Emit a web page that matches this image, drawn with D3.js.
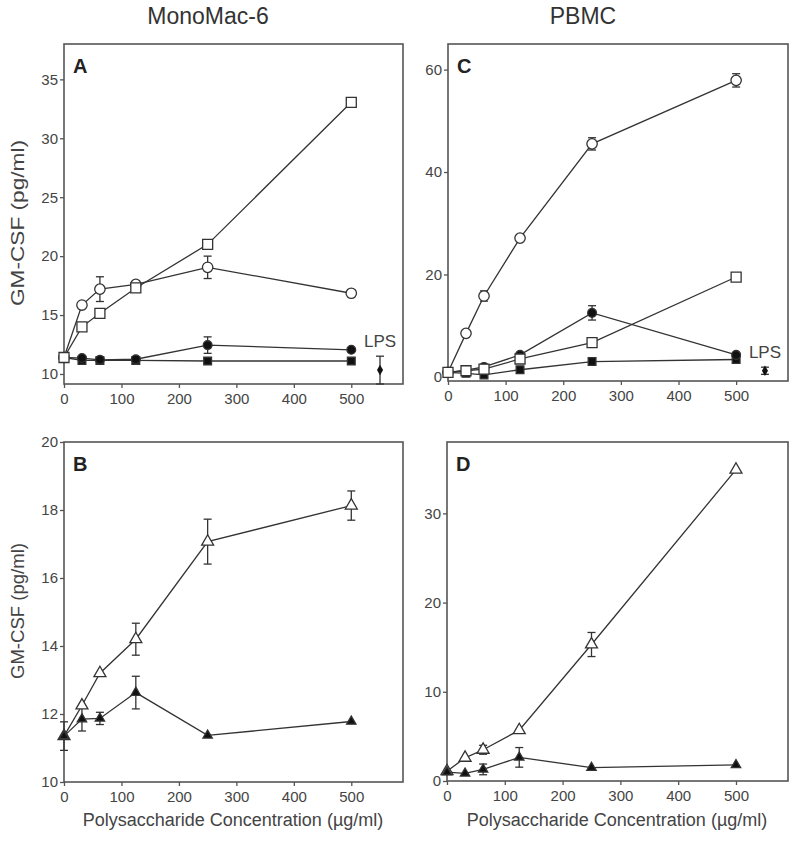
<!DOCTYPE html>
<html>
<head>
<meta charset="utf-8">
<script src="https://cdn.jsdelivr.net/npm/d3@7"></script>
<style>
  body { margin: 0; background: #fff; }
  svg { display: block; }
  text { font-family: "Liberation Sans", Arial, sans-serif; }
</style>
</head>
<body>
<svg id="chart" width="800" height="842"></svg>
<script>
// ---- data ----
const conc = [0, 31.25, 62.5, 125, 250, 500];
const xTicks = [0, 100, 200, 300, 400, 500];

// Panel A (MonoMac-6)
const aOpenSquare = [11.4, 14.0, 15.15, 17.3, 21.0, 33.05];
const aOpenCircle = [11.4, 15.85, 17.2, 17.6, 19.05, 16.85];
const aOpenCircleErr = [0, 0, 1.05, 0, 0.95, 0];
const aFilledCircle = [11.4, 11.35, 11.2, 11.25, 12.45, 12.05];
const aFilledCircleErr = [0, 0, 0, 0, 0.7, 0];
const aFilledSquare = [11.4, 11.15, 11.15, 11.15, 11.1, 11.1];
const aLPS = { x: 550, y: 10.33, err: 1.18 };
const aYTicks = [10, 15, 20, 25, 30, 35];

// Panel C (PBMC)
const cOpenCircle = [0.9, 8.5, 15.8, 27.1, 45.5, 57.9];
const cOpenCircleErr = [0, 0, 1.0, 0, 1.2, 1.3];
const cOpenSquare = [0.9, 1.2, 1.5, 3.5, 6.7, 19.5];
const cFilledCircle = [0.9, 1.3, 1.95, 4.3, 12.5, 4.3];
const cFilledCircleErr = [0, 0, 0, 0, 1.4, 0];
const cFilledSquare = [0.9, 0.7, 0.4, 1.4, 3.0, 3.4];
const cLPS = { x: 550, y: 1.2, err: 0.7 };
const cYTicks = [0, 20, 40, 60];

// Panel B (MonoMac-6)
const bOpenTri = [11.35, 12.25, 13.2, 14.2, 17.07, 18.13];
const bOpenTriErr = [0, 0, 0, 0.47, 0.66, 0.43];
const bFilledTri = [11.35, 11.85, 11.87, 12.63, 11.37, 11.78];
const bFilledTriErr = [0.42, 0.35, 0.18, 0.48, 0, 0];
const bYTicks = [10, 12, 14, 16, 18, 20];

// Panel D (PBMC)
const dOpenTri = [1.1, 2.6, 3.5, 5.7, 15.3, 34.9];
const dOpenTriErr = [0, 0, 0.5, 0, 1.35, 0];
const dFilledTri = [1.0, 0.85, 1.3, 2.65, 1.5, 1.8];
const dFilledTriErr = [0, 0, 0.6, 1.1, 0, 0];
const dYTicks = [0, 10, 20, 30];

const colTitles = ["MonoMac-6", "PBMC"];
const yLabel = "GM-CSF (pg/ml)";
const xLabel = "Polysaccharide Concentration (\u00b5g/ml)";

// ---- drawing ----
const svg = d3.select("#chart");
const INK = "#333";
const FRAME = "#555";
const TXT = "#444";

function markerPath(shape, filled) {
  const sizes = { circle: filled ? 60 : 85, square: filled ? 60 : 100, triangle: filled ? 38 : 62, diamond: 32 };
  const types = { circle: d3.symbolCircle, square: d3.symbolSquare, triangle: d3.symbolTriangle, diamond: d3.symbolDiamond };
  return d3.symbol().type(types[shape]).size(sizes[shape])();
}

function panel(cfg) {
  const { left, right, top, bottom, yDomain, yTicks, letter, series, lps } = cfg;
  const x = d3.scaleLinear().domain([0, 590]).range([left, right]);
  const y = d3.scaleLinear().domain(yDomain).range([bottom, top]);
  const g = svg.append("g");

  // axes
  const ax = g.append("g").attr("transform", `translate(0,${bottom})`)
    .call(d3.axisBottom(x).tickValues(xTicks).tickSize(4).tickPadding(5));
  const ay = g.append("g").attr("transform", `translate(${left},0)`)
    .call(d3.axisLeft(y).tickValues(yTicks).tickSize(4).tickPadding(2));
  [ax, ay].forEach(a => {
    a.select(".domain").remove();
    a.selectAll("line").attr("stroke", FRAME).attr("stroke-width", 1.3);
    a.selectAll("text").attr("fill", TXT).style("font-size", "15px")
      .style("font-family", "'Liberation Sans', Arial, sans-serif");
  });

  // frame
  g.append("rect").attr("x", left).attr("y", top)
    .attr("width", right - left).attr("height", bottom - top)
    .attr("fill", "none").attr("stroke", FRAME).attr("stroke-width", 1.6);

  // letter
  g.append("text").attr("x", left + 9).attr("y", top + 29)
    .attr("font-size", 20).attr("font-weight", "bold").attr("fill", "#222").text(letter);

  const inner = g.append("g");
  const line = d3.line().x((d, i) => x(conc[i])).y(d => y(d));

  // lines
  series.forEach(s => {
    inner.append("path").datum(s.values).attr("d", line)
      .attr("fill", "none").attr("stroke", INK).attr("stroke-width", 1.3);
  });
  // error bars
  series.forEach(s => {
    if (!s.err) return;
    s.values.forEach((v, i) => {
      const e = s.err[i];
      if (!e) return;
      const cx = x(conc[i]);
      inner.append("line").attr("x1", cx).attr("x2", cx).attr("y1", y(v - e)).attr("y2", y(v + e))
        .attr("stroke", INK).attr("stroke-width", 1.3);
      [v - e, v + e].forEach(w => inner.append("line").attr("x1", cx - 4).attr("x2", cx + 4)
        .attr("y1", y(w)).attr("y2", y(w)).attr("stroke", INK).attr("stroke-width", 1.3));
    });
  });
  // markers, in the order given (last on top)
  series.forEach(s => {
    s.values.forEach((v, i) => {
      inner.append("path").attr("d", markerPath(s.shape, s.filled))
        .attr("transform", `translate(${x(conc[i])},${y(v)})`)
        .attr("fill", s.filled ? "#111" : "#fff").attr("stroke", INK).attr("stroke-width", 1.3);
    });
  });
  // LPS
  if (lps) {
    const cx = x(lps.x);
    inner.append("line").attr("x1", cx).attr("x2", cx).attr("y1", y(lps.y - lps.err)).attr("y2", y(lps.y + lps.err))
      .attr("stroke", INK).attr("stroke-width", 1.3);
    [lps.y - lps.err, lps.y + lps.err].forEach(w => inner.append("line").attr("x1", cx - 4).attr("x2", cx + 4)
      .attr("y1", y(w)).attr("y2", y(w)).attr("stroke", INK).attr("stroke-width", 1.3));
    inner.append("path").attr("d", markerPath("diamond", true))
      .attr("transform", `translate(${cx},${y(lps.y)})`).attr("fill", "#111");
    g.append("text").attr("x", cx).attr("y", y(lps.y + lps.err) - 9)
      .attr("text-anchor", "middle").attr("font-size", 17).attr("fill", TXT).text("LPS");
  }
}

panel({
  left: 64, right: 403, top: 44, bottom: 384, yDomain: [9.15, 38], yTicks: aYTicks, letter: "A",
  series: [
    { values: aFilledSquare, shape: "square", filled: true },
    { values: aFilledCircle, err: aFilledCircleErr, shape: "circle", filled: true },
    { values: aOpenCircle, err: aOpenCircleErr, shape: "circle", filled: false },
    { values: aOpenSquare, shape: "square", filled: false }
  ],
  lps: aLPS
});
panel({
  left: 448, right: 788, top: 44, bottom: 381, yDomain: [-0.8, 65], yTicks: cYTicks, letter: "C",
  series: [
    { values: cFilledSquare, shape: "square", filled: true },
    { values: cFilledCircle, err: cFilledCircleErr, shape: "circle", filled: true },
    { values: cOpenCircle, err: cOpenCircleErr, shape: "circle", filled: false },
    { values: cOpenSquare, shape: "square", filled: false }
  ],
  lps: cLPS
});
panel({
  left: 64, right: 403, top: 442, bottom: 782, yDomain: [10, 20], yTicks: bYTicks, letter: "B",
  series: [
    { values: bOpenTri, err: bOpenTriErr, shape: "triangle", filled: false },
    { values: bFilledTri, err: bFilledTriErr, shape: "triangle", filled: true }
  ]
});
panel({
  left: 447, right: 788, top: 442, bottom: 781, yDomain: [0, 38], yTicks: dYTicks, letter: "D",
  series: [
    { values: dOpenTri, err: dOpenTriErr, shape: "triangle", filled: false },
    { values: dFilledTri, err: dFilledTriErr, shape: "triangle", filled: true }
  ]
});

// column titles
svg.append("text").attr("x", 208).attr("y", 24).attr("text-anchor", "middle")
  .attr("font-size", 23).attr("fill", "#333").text(colTitles[0]);
svg.append("text").attr("x", 583).attr("y", 24).attr("text-anchor", "middle")
  .attr("font-size", 23).attr("fill", "#333").text(colTitles[1]);

// y labels (top one is vertically stretched in the original)
[[223, 166], [611, 136]].forEach(([cy, len]) => {
  svg.append("text").attr("transform", `translate(24,${cy}) rotate(-90)`)
    .attr("text-anchor", "middle").attr("font-size", 18).attr("fill", TXT)
    .attr("textLength", len).attr("lengthAdjust", "spacingAndGlyphs").text(yLabel);
});
// x labels
[[233], [617]].forEach(([cx]) => {
  svg.append("text").attr("x", cx).attr("y", 826).attr("text-anchor", "middle")
    .attr("font-size", 18).attr("fill", TXT).text(xLabel);
});
</script>
</body>
</html>
